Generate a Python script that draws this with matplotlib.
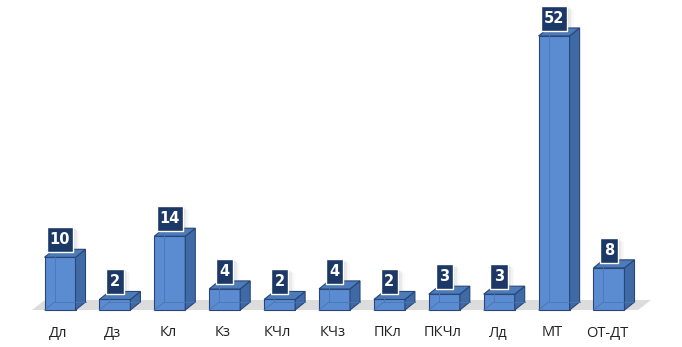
import matplotlib
matplotlib.use("Agg")
import matplotlib.pyplot as plt
from matplotlib.patches import Polygon, Rectangle
import numpy as np

categories = ["Дл", "Дз", "Кл", "Кз", "КЧл", "КЧз", "ПКл", "ПКЧл", "Лд", "МТ", "ОТ-ДТ"]
values = [10, 2, 14, 4, 2, 4, 2, 3, 3, 52, 8]

W, H = 682, 347
fig = plt.figure(figsize=(W/100, H/100), dpi=100)
ax_l, ax_r, ax_t, ax_b = 20, 660, 5, 320
ax = fig.add_axes([ax_l/W, 1-ax_b/H, (ax_r-ax_l)/W, (ax_b-ax_t)/H])
pxu_x = 54.9
pxu_y = 5.27
x0 = -(60-ax_l)/pxu_x
ax.set_xlim(x0, x0 + (ax_r-ax_l)/pxu_x)
y0 = -(ax_b-310)/pxu_y
ax.set_ylim(y0, y0 + (ax_b-ax_t)/pxu_y)
ax.axis("off")

bw = 31/pxu_x
dx = 10/pxu_x
dy = 8/pxu_y

front_c = "#5B8BD1"
side_c = "#3F6AA6"
top_c = "#4C7BBB"
edge_c = "#284677"

# floor
fl, fr = -0.51, 10.53
floor = Polygon([(fl, 0), (fr, 0), (fr+dx*1.3, dy*1.25), (fl+dx*1.3, dy*1.25)],
                closed=True, facecolor="#DCDCDC", edgecolor="none", zorder=1)
ax.add_patch(floor)

xs = np.arange(len(categories))
bars = ax.bar(xs, values, width=bw, color=front_c, edgecolor=edge_c, linewidth=0.8, zorder=3)
for b, v in zip(bars, values):
    xl = b.get_x(); xr = xl + b.get_width(); h = b.get_height()
    side = Polygon([(xr, 0), (xr+dx, dy), (xr+dx, h+dy), (xr, h)], closed=True,
                   facecolor=side_c, edgecolor=edge_c, linewidth=0.8, zorder=3)
    top = Polygon([(xl, h), (xr, h), (xr+dx, h+dy), (xl+dx, h+dy)], closed=True,
                  facecolor=top_c, edgecolor=edge_c, linewidth=0.8, zorder=3)
    ax.add_patch(side); ax.add_patch(top)
    ax.plot([xl+dx, xl+dx], [dy, h+dy], color="#4A76B3", lw=0.6, zorder=3.5)
    ax.plot([xl, xl+dx], [0, dy], color="#4A76B3", lw=0.6, zorder=3.5)
    ax.plot([xl+dx, xr+dx], [dy, dy], color="#4A76B3", lw=0.6, zorder=3.5)

# value labels
for x, v in zip(xs, values):
    cy = v + 17.5/pxu_y
    txt = str(v)
    bwpx = 9 + 8.5*len(txt)
    bhpx = 25
    # soft shadow
    for i, a in enumerate([0.10, 0.07, 0.05, 0.03]):
        sx = x - bwpx/2/pxu_x + (2+i*1.5)/pxu_x
        sy = cy - bhpx/2/pxu_y - (1+i)/pxu_y
        ax.add_patch(Rectangle((sx, sy), bwpx/pxu_x, bhpx/pxu_y, facecolor="#7F7F7F",
                               edgecolor="none", alpha=a, zorder=4))
    ax.add_patch(Rectangle((x - bwpx/2/pxu_x, cy - bhpx/2/pxu_y), bwpx/pxu_x, bhpx/pxu_y,
                           facecolor="#1B3866", edgecolor="white", linewidth=1.0, zorder=5))
    ax.text(x, cy, txt, ha="center", va="center", fontsize=10.5, fontweight="bold",
            color="white", family="DejaVu Sans", zorder=6)

# category labels
for x, c in zip(xs, categories):
    ax.text(x - 2/pxu_x, -23/pxu_y, c, ha="center", va="center", fontsize=10.5,
            color="#222222", family="Open Sans")

fig.savefig("out.png", dpi=100, facecolor="white")
